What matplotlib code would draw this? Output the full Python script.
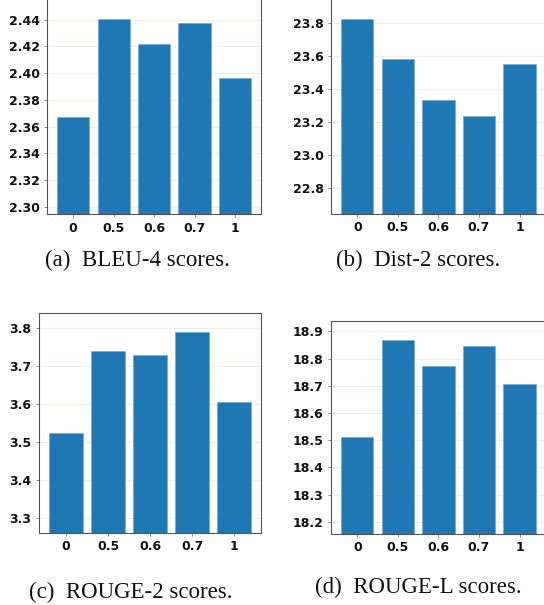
import matplotlib
matplotlib.use("Agg")
from matplotlib import pyplot as plt

# x categories shared by all four panels
ratios = ["0", "0.5", "0.6", "0.7", "1"]

# values
bleu4 = [2.3673, 2.4403, 2.4217, 2.4377, 2.3961]
dist2 = [23.823, 23.582, 23.330, 23.232, 23.551]
rouge2 = [3.5237, 3.7379, 3.7289, 3.7880, 3.6053]
rougel = [18.511, 18.867, 18.7735, 18.847, 18.706]

bleu4_ticks = [2.30, 2.32, 2.34, 2.36, 2.38, 2.40, 2.42, 2.44]
dist2_ticks = [22.8, 23.0, 23.2, 23.4, 23.6, 23.8]
rouge2_ticks = [3.3, 3.4, 3.5, 3.6, 3.7, 3.8]
rougel_ticks = [18.2, 18.3, 18.4, 18.5, 18.6, 18.7, 18.8, 18.9]

captions = ["(a)  BLEU-4 scores.", "(b)  Dist-2 scores.",
            "(c)  ROUGE-2 scores.", "(d)  ROUGE-L scores."]

fig = plt.figure(figsize=(5.44, 6.05), dpi=100)


def bar_panel(rect, values, ticks, ylim, fmt):
    ax = fig.add_axes(rect)
    ax.set_axisbelow(True)
    ax.yaxis.grid(True, color="#f3ede8", linewidth=0.8)
    ax.bar(range(len(ratios)), values, width=0.8, color="#1f77b4",
           edgecolor="#6fa6d2", linewidth=0.4)
    ax.set_xticks(range(len(ratios)))
    ax.set_xticklabels(ratios)
    ax.set_yticks(ticks)
    ax.set_yticklabels([fmt.format(t) for t in ticks])
    ax.set_ylim(*ylim)
    ax.set_xlim(-0.64, 4.64)
    for s in ax.spines.values():
        s.set_color("#555555")
        s.set_linewidth(0.8)
    ax.tick_params(axis="both", length=2, width=0.6, color="#777777", pad=3.5)
    for lab in ax.get_xticklabels() + ax.get_yticklabels():
        lab.set_fontweight("bold")
        lab.set_fontsize(9)
        lab.set_color("#111111")
    return ax


bar_panel([0.0870, 0.6463, 0.3928, 0.3555], bleu4, bleu4_ticks, (2.2945, 2.4556), "{:.2f}")
bar_panel([0.6090, 0.6468, 0.3937, 0.3550], dist2, dist2_ticks, (22.641, 23.947), "{:.1f}")
bar_panel([0.0722, 0.1195, 0.4075, 0.3636], rouge2, rouge2_ticks, (3.2605, 3.8395), "{:.1f}")
bar_panel([0.6090, 0.1179, 0.3937, 0.3511], rougel, rougel_ticks, (18.156, 18.937), "{:.1f}")

# subcaptions
cap_pos = [(137, 260), (418.5, 260), (130.5, 592.5), (418.5, 587.5)]
for (x, y), c in zip(cap_pos, captions):
    fig.text(x / 544, 1 - y / 605, c, ha="center", va="center",
             family="Liberation Serif", fontsize=16.5, color="#111111")

fig.savefig("out.png", dpi=100)
